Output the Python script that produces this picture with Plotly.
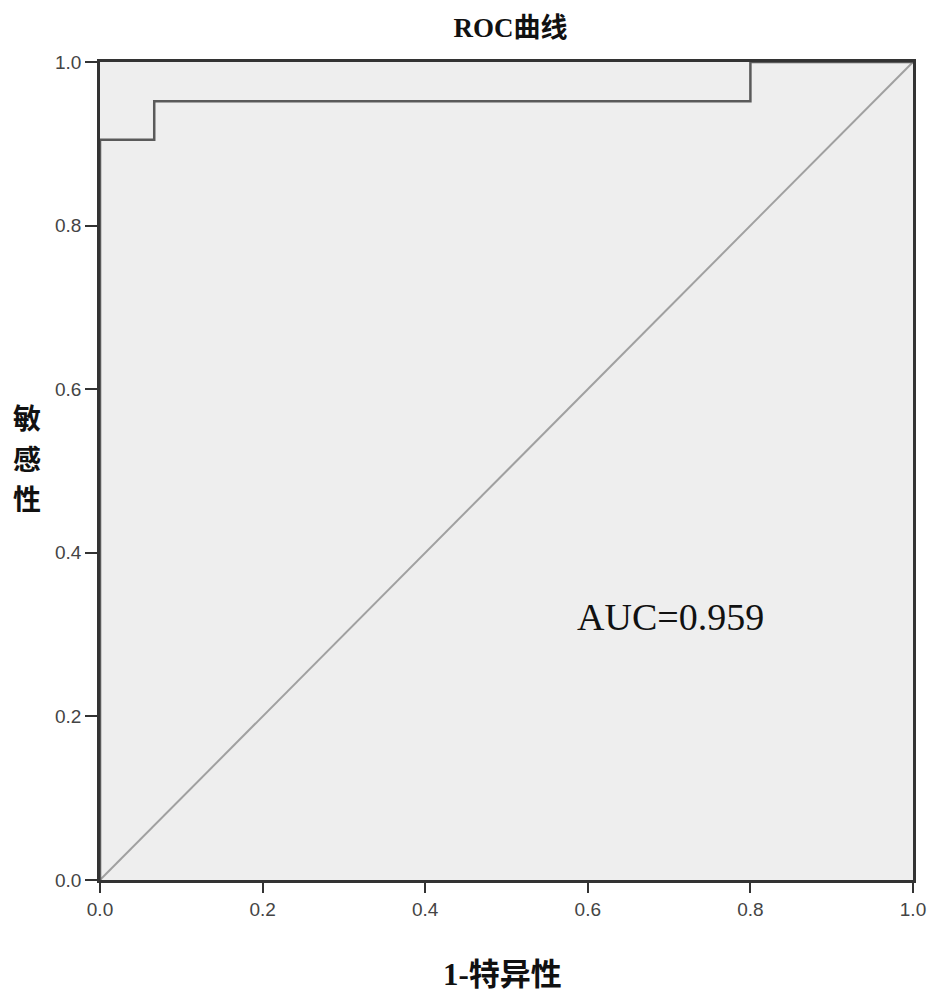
import plotly.graph_objects as go

# ROC step curve (1-specificity, sensitivity)
fpr = [0.0, 0.0, 0.0667, 0.0667, 0.8, 0.8, 1.0]
tpr = [0.0, 0.905, 0.905, 0.952, 0.952, 1.0, 1.0]
ref_x = [0.0, 1.0]
ref_y = [0.0, 1.0]
tick_vals = [0.0, 0.2, 0.4, 0.6, 0.8, 1.0]
tick_text = ["0.0", "0.2", "0.4", "0.6", "0.8", "1.0"]
auc_text = "AUC=0.959"
y_label_chars = ["敏", "感", "性"]

serif_cjk = "Liberation Serif, Noto Sans CJK SC, serif"

fig = go.Figure()
fig.add_trace(go.Scatter(x=ref_x, y=ref_y, mode="lines",
                         line=dict(color="#a0a0a0", width=2), showlegend=False))
fig.add_trace(go.Scatter(x=fpr, y=tpr, mode="lines",
                         line=dict(color="#5a5a5a", width=2.5), showlegend=False))

axis_common = dict(range=[0, 1], tickvals=tick_vals, ticktext=tick_text,
                   showgrid=False, zeroline=False, showline=True, mirror=True,
                   linecolor="#333333", linewidth=2.5, ticks="outside",
                   tickwidth=2, tickcolor="#333333",
                   tickfont=dict(family="Liberation Sans, Arial, sans-serif",
                                 size=19, color="#444444"))

annotations = [
    dict(text="<b>1-特异性</b>", xref="paper", yref="paper", x=0.495, y=-0.116,
         xanchor="center", yanchor="middle", showarrow=False,
         font=dict(family=serif_cjk, size=31, color="#111111")),
    dict(text=auc_text, xref="x", yref="y", x=0.702, y=0.322,
         xanchor="center", yanchor="middle", showarrow=False,
         font=dict(family="Liberation Serif, serif", size=38, color="#111111")),
]
for i, ch in enumerate(y_label_chars):
    annotations.append(dict(text="<b>" + ch + "</b>", xref="paper", yref="paper", x=-0.0898,
                            y=0.566 - i * 0.0495, xanchor="center", yanchor="middle",
                            showarrow=False,
                            font=dict(family="Noto Sans CJK SC", size=28, color="#111111")))

fig.update_layout(
    width=941, height=1000,
    margin=dict(l=100, r=28, t=62, b=120),
    paper_bgcolor="white", plot_bgcolor="#eeeeee",
    xaxis=dict(**axis_common, ticklen=10),
    yaxis=dict(**axis_common, ticklen=12),
    title=dict(text="<b>ROC曲线</b>", xref="paper", x=0.505, xanchor="center", y=0.972, yanchor="middle",
               font=dict(family=serif_cjk, size=27, color="#111111")),
    annotations=annotations,
)

fig.write_html("out.html", config={"displayModeBar": False},
               post_script="document.body.style.margin='0';document.body.style.overflow='hidden';")
